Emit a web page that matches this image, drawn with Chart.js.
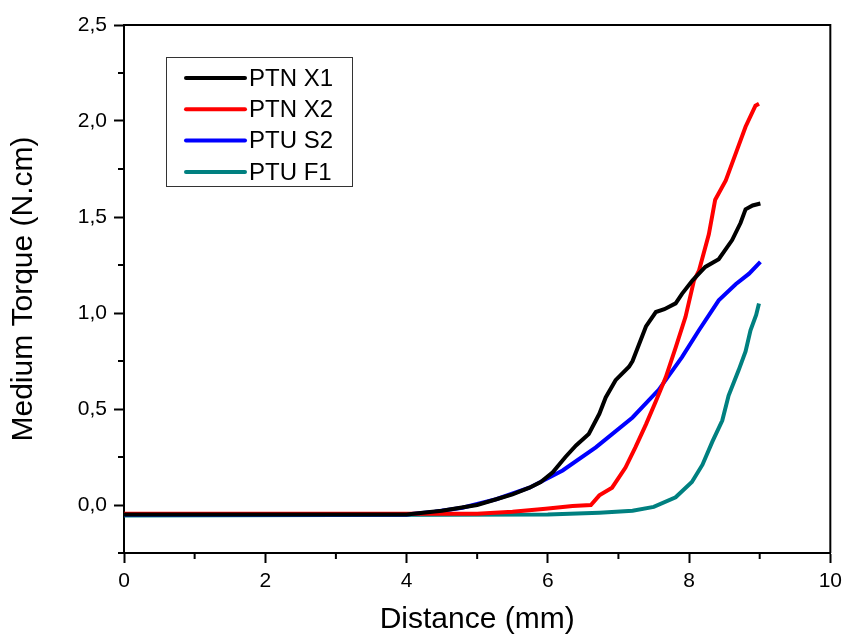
<!DOCTYPE html>
<html>
<head>
<meta charset="utf-8">
<script src="https://cdn.jsdelivr.net/npm/chart.js@4"></script>
<style>
  body { margin: 0; background: #fff; }
  canvas { display: block; }
</style>
</head>
<body>
<canvas id="torque-chart" width="848" height="642"></canvas>
<script>
// values
const seriesNames = ['PTN X1', 'PTN X2', 'PTU S2', 'PTU F1'];
const seriesColors = ['#000000', '#ff0000', '#0000ff', '#008080'];

const x1Dist   = [0, 4.0, 4.5, 5.0, 5.27, 5.5, 5.74, 5.9, 6.07, 6.25, 6.4, 6.58, 6.73, 6.82, 6.96, 7.15, 7.2, 7.39, 7.53, 7.65, 7.81, 7.9, 8.05, 8.23, 8.42, 8.61, 8.73, 8.8, 8.9, 9.01];
const x1Torque = [-0.05, -0.05, -0.03, 0.0, 0.03, 0.055, 0.09, 0.12, 0.17, 0.25, 0.31, 0.37, 0.475, 0.56, 0.65, 0.72, 0.75, 0.93, 1.005, 1.02, 1.05, 1.1, 1.17, 1.24, 1.28, 1.38, 1.47, 1.54, 1.56, 1.57];

const x2Dist   = [0, 5.0, 5.5, 5.97, 6.35, 6.61, 6.73, 6.91, 7.1, 7.24, 7.39, 7.53, 7.67, 7.81, 7.95, 8.07, 8.14, 8.28, 8.37, 8.52, 8.66, 8.8, 8.94, 8.99];
const x2Torque = [-0.045, -0.045, -0.035, -0.02, -0.005, 0.0, 0.05, 0.09, 0.195, 0.3, 0.42, 0.54, 0.665, 0.82, 0.98, 1.17, 1.22, 1.41, 1.59, 1.69, 1.83, 1.97, 2.08, 2.09];

const s2Dist   = [0, 4.0, 4.4, 4.79, 5.27, 5.74, 6.21, 6.68, 7.2, 7.57, 7.9, 8.14, 8.42, 8.66, 8.85, 9.01];
const s2Torque = [-0.05, -0.05, -0.035, -0.014, 0.03, 0.09, 0.18, 0.30, 0.456, 0.6, 0.77, 0.91, 1.066, 1.15, 1.205, 1.266];

const f1Dist   = [0, 6.0, 6.73, 7.2, 7.5, 7.81, 8.04, 8.19, 8.33, 8.47, 8.56, 8.7, 8.8, 8.87, 8.95, 8.99];
const f1Torque = [-0.055, -0.05, -0.04, -0.03, -0.01, 0.04, 0.12, 0.21, 0.33, 0.44, 0.57, 0.70, 0.80, 0.91, 0.99, 1.05];

const xMajorTicks = [0, 2, 4, 6, 8, 10];
const xMinorTicks = [1, 3, 5, 7, 9];
const yMajorTicks = [0, 0.5, 1.0, 1.5, 2.0, 2.5];
const yMinorTicks = [-0.25, 0.25, 0.75, 1.25, 1.75, 2.25];

const allDist = [x1Dist, x2Dist, s2Dist, f1Dist];
const allTorque = [x1Torque, x2Torque, s2Torque, f1Torque];

const FONT = '"Liberation Sans", Arial, sans-serif';

// box round the plot + minor ticks + legend in the upper left
const framePlugin = {
  id: 'frame',
  afterDraw(chart) {
    const ctx = chart.ctx;
    const a = chart.chartArea;
    const xs = chart.scales.x, ys = chart.scales.y;
    ctx.save();
    ctx.strokeStyle = '#000';
    ctx.lineWidth = 2;
    ctx.beginPath();
    ctx.moveTo(a.left, a.top);
    ctx.lineTo(a.right, a.top);
    ctx.lineTo(a.right, a.bottom);
    ctx.stroke();

    ctx.beginPath();
    xMinorTicks.forEach(v => {
      const px = xs.getPixelForValue(v);
      ctx.moveTo(px, a.bottom);
      ctx.lineTo(px, a.bottom + 6);
    });
    yMinorTicks.forEach(v => {
      const py = ys.getPixelForValue(v);
      ctx.moveTo(a.left, py);
      ctx.lineTo(a.left - 6, py);
    });
    ctx.stroke();

    // legend
    const bx = a.left + 42, by = a.top + 32, bw = 186, bh = 129;
    ctx.lineWidth = 1;
    ctx.strokeStyle = '#333';
    ctx.strokeRect(bx + 0.5, by + 0.5, bw, bh);
    ctx.font = '24px ' + FONT;
    ctx.textBaseline = 'middle';
    ctx.fillStyle = '#000';
    chart.data.datasets.forEach((ds, i) => {
      const ry = by + 21 + i * 31.3;
      ctx.strokeStyle = ds.borderColor;
      ctx.lineWidth = 4;
      ctx.lineCap = 'round';
      ctx.beginPath();
      ctx.moveTo(bx + 20, ry);
      ctx.lineTo(bx + 79, ry);
      ctx.stroke();
      ctx.fillText(ds.label, bx + 83, ry + 1);
    });
    ctx.restore();
  }
};

const ctx = document.getElementById('torque-chart').getContext('2d');

new Chart(ctx, {
  type: 'scatter',
  data: {
    datasets: seriesNames.map((name, i) => ({
      label: name,
      data: allDist[i].map((d, j) => ({ x: d, y: allTorque[i][j] })),
      showLine: true,
      borderColor: seriesColors[i],
      backgroundColor: seriesColors[i],
      borderWidth: 4,
      pointRadius: 0,
      tension: 0
    }))
  },
  options: {
    responsive: false,
    animation: false,
    layout: { padding: { top: 25, right: 16, left: 0, bottom: 0 } },
    plugins: {
      legend: { display: false },
      tooltip: { enabled: false }
    },
    scales: {
      x: {
        type: 'linear',
        min: 0,
        max: 10,
        afterBuildTicks: s => { s.ticks = xMajorTicks.map(v => ({ value: v })); },
        afterFit: s => { s.height = 89; },
        ticks: {
          color: '#000',
          font: { family: FONT, size: 21 },
          padding: 6,
          maxRotation: 0,
          autoSkip: false,
          callback: v => String(v)
        },
        grid: {
          drawOnChartArea: false,
          tickLength: 10,
          tickWidth: 2,
          tickColor: '#000'
        },
        border: { display: true, color: '#000', width: 2 },
        title: {
          display: true,
          text: 'Distance (mm)',
          color: '#000',
          font: { family: FONT, size: 30 },
          padding: { top: 0, bottom: 4 }
        }
      },
      y: {
        min: -0.25,
        max: 2.5,
        afterBuildTicks: s => { s.ticks = yMajorTicks.map(v => ({ value: v })); },
        afterFit: s => { s.width = 124; },
        ticks: {
          color: '#000',
          font: { family: FONT, size: 21 },
          padding: 7,
          autoSkip: false,
          callback: v => v.toFixed(1).replace('.', ',')
        },
        grid: {
          drawOnChartArea: false,
          tickLength: 10,
          tickWidth: 2,
          tickColor: '#000'
        },
        border: { display: true, color: '#000', width: 2 },
        title: {
          display: true,
          text: 'Medium Torque (N.cm)',
          color: '#000',
          font: { family: FONT, size: 30 },
          padding: { top: 6, bottom: 0 }
        }
      }
    }
  },
  plugins: [framePlugin]
});
</script>
</body>
</html>
